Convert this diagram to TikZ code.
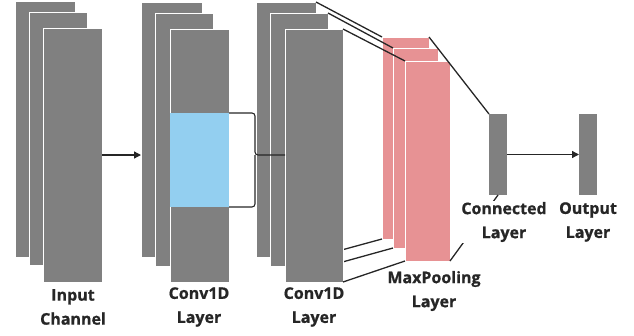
\documentclass[tikz,border=0pt]{standalone}
\usepackage{fontspec}
\setmainfont{Open Sans}[BoldFont={Open Sans Bold}, BoldFeatures={FakeBold=0.8}]
\usetikzlibrary{arrows.meta}
\definecolor{blk}{HTML}{808080}
\definecolor{pool}{HTML}{E79294}
\definecolor{win}{HTML}{93CFF0}
\definecolor{ink}{HTML}{262626}
\tikzset{
  layer/.style={rectangle, anchor=north west, inner sep=0pt, outer sep=0pt, fill=blk, draw=white, line width=1pt},
  poolbox/.style={layer, fill=pool},
  winbox/.style={rectangle, anchor=north west, inner sep=0pt, outer sep=0pt, fill=win},
  conn/.style={draw=ink, line width=1.3pt},
  flow/.style={conn, -{Triangle[length=7pt,width=7pt]}},
  lbl/.style={font=\bfseries\fontsize{16}{24}\selectfont, text=ink, align=center, inner sep=1pt},
}
\begin{document}
\begin{tikzpicture}[x=1pt,y=-1pt]
\useasboundingbox (0,0) rectangle (634,335);
% input channel
\node[layer, minimum width=60pt, minimum height=256pt] (ia) at (15,1) {};
\node[layer, minimum width=58pt, minimum height=253pt] (ib) at (29,12) {};
\node[layer, minimum width=59pt, minimum height=254pt] (ic) at (43,28) {};
% conv1
\node[layer, minimum width=61pt, minimum height=255pt] (ca) at (141,2) {};
\node[layer, minimum width=58pt, minimum height=253pt] (cb) at (155,13) {};
\node[layer, minimum width=59pt, minimum height=253pt] (cc) at (170,29) {};
\node[winbox, minimum width=59pt, minimum height=94pt] (cw) at (170,113) {};
% pooling
\node[poolbox, minimum width=47pt, minimum height=202pt] (ma) at (382,37) {};
\node[poolbox, minimum width=45pt, minimum height=200pt] (mb) at (393,48) {};
\node[poolbox, minimum width=45pt, minimum height=200pt] (mc) at (405,61) {};
% conv2 back sheets
\node[layer, minimum width=60pt, minimum height=255pt] (da) at (256,2) {};
\node[layer, minimum width=58pt, minimum height=253pt] (db) at (270,13) {};
% conv2 -> pooling lines
\draw[conn] (da.north east) -- (ma.north west);
\draw[conn] (db.north east) -- (mb.north west);
\draw[conn] (da.south east) -- (ma.south west);
\draw[conn] (db.south east) -- (mb.south west);
% conv2 front sheet
\node[layer, minimum width=58pt, minimum height=253pt] (dc) at (285,29) {};
\draw[conn] (dc.north east) -- (mc.north west);
\draw[conn] (dc.south east) -- (mc.south west);
% dense + output
\node[layer, draw=none, minimum width=18pt, minimum height=81pt] (cl) at (489,114) {};
\node[layer, draw=none, minimum width=18pt, minimum height=81pt] (ol) at (579,114) {};
\draw[conn] (ma.north east) -- (cl.north west);
\draw[conn] (mc.south east) -- (cl.south);
% brace
\coordinate (bt) at (255,113);
\coordinate (bb) at (255,207);
\coordinate (bm) at (255,155);
\draw[conn, line width=1.1pt, rounded corners=3pt] (cw.north east) -- (bt) -- (bm) -- (bm -| dc.west);
\draw[conn, line width=1.1pt, rounded corners=3pt] (cw.south east) -- (bb) -- (bm);
% arrows
\draw[flow] (ic.east) -- (ic.east -| ca.west);
\draw[flow] (cl.east) -- (cl.east -| ol.west);
% labels
\node[lbl] (t1) at (73,307) {Input\\Channel};
\node[lbl] (t2) at (199,307) {Conv1D\\Layer};
\node[lbl] (t3) at (314,307) {Conv1D\\Layer};
\node[lbl] (t4) at (434,291) {MaxPooling\\Layer};
\node[lbl, fill=white] (t5) at (504,222) {Connected\\Layer};
\node[lbl] (t6) at (588,222) {Output\\Layer};
\end{tikzpicture}
\end{document}
